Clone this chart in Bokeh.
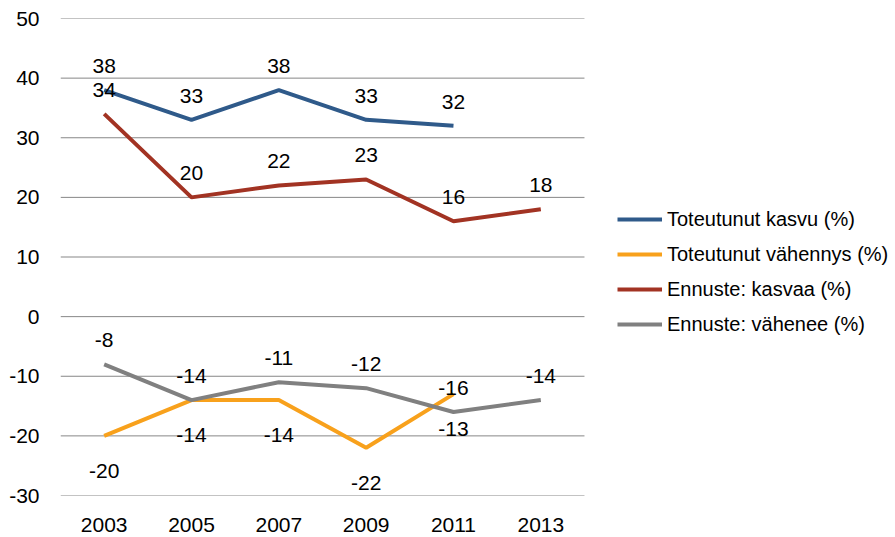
from bokeh.plotting import figure
from bokeh.models import Legend, LegendItem, ColumnDataSource, FixedTicker, PrintfTickFormatter, Range1d
from bokeh.core.properties import value
from bokeh.embed import file_html
from bokeh.resources import INLINE

years = ["2003", "2005", "2007", "2009", "2011", "2013"]
kasvu = [38, 33, 38, 33, 32]
vahennys = [-20, -14, -14, -22, -13]
ennuste_kasvaa = [34, 20, 22, 23, 16, 18]
ennuste_vahenee = [-8, -14, -11, -12, -16, -14]
y_ticks = [-30, -20, -10, 0, 10, 20, 30, 40, 50]

names = ["Toteutunut kasvu (%)", "Toteutunut vähennys (%)", "Ennuste: kasvaa (%)", "Ennuste: vähenee (%)"]
colors = ["#2F5A8A", "#F8A11C", "#A23323", "#808080"]
label_offsets = [-24, 35, -24, -24]
series = [kasvu, vahennys, ennuste_kasvaa, ennuste_vahenee]

FONT = "Liberation Sans"

W, H = 895, 537
LEFT, TOP, BOTTOM = 60, 18, 42
CAT_PX = 87.33
n = len(years)
x_idx = list(range(n))
x_end = -0.5 + (W - LEFT) / CAT_PX

p = figure(width=W, height=H, x_range=Range1d(-0.5, x_end), y_range=Range1d(-30, 50),
           output_backend="svg", toolbar_location=None,
           min_border_left=LEFT, min_border_right=0, min_border_top=TOP, min_border_bottom=BOTTOM)
p.outline_line_color = None
p.background_fill_color = "white"
p.border_fill_color = "white"

p.xgrid.grid_line_color = None
p.ygrid.grid_line_color = None
p.yaxis.ticker = FixedTicker(ticks=y_ticks)
p.yaxis.formatter = PrintfTickFormatter(format="%d")
p.xaxis.ticker = FixedTicker(ticks=x_idx)
p.xaxis.major_label_overrides = {i: y for i, y in zip(x_idx, years)}

# horizontal gridlines spanning the category area only
p.segment(x0=[-0.5] * len(y_ticks), x1=[n - 0.5] * len(y_ticks), y0=y_ticks, y1=y_ticks,
          line_color="#878787", line_width=1)

for ax in (p.xaxis, p.yaxis):
    ax.axis_line_color = None
    ax.major_tick_line_color = None
    ax.minor_tick_line_color = None
    ax.major_tick_out = 0
    ax.major_tick_in = 0
    ax.minor_tick_out = 0
    ax.major_label_text_font = FONT
    ax.major_label_text_font_size = "21px"
    ax.major_label_text_color = "#000000"
p.yaxis.major_label_standoff = 21
p.xaxis.major_label_standoff = 22

items = []
for vals, name, col, off in zip(series, names, colors, label_offsets):
    src = ColumnDataSource(dict(x=x_idx[:len(vals)], y=vals, t=[str(v) for v in vals]))
    r = p.line("x", "y", source=src, line_color=col, line_width=4)
    p.text("x", "y", text="t", source=src, y_offset=off, text_align="center",
           text_baseline="middle", text_font=value(FONT), text_font_size="21px",
           text_color="#000000")
    items.append(LegendItem(label=name, renderers=[r]))

legend = Legend(items=items, location=(557, 159), orientation="vertical",
                glyph_width=45, glyph_height=24, label_height=24, spacing=11,
                label_standoff=5, padding=0, margin=0,
                label_text_font=FONT, label_text_font_size="20px",
                label_text_color="#000000",
                border_line_color=None, background_fill_alpha=0)
p.add_layout(legend, "center")

open("out.html", "w").write(file_html(p, INLINE))
